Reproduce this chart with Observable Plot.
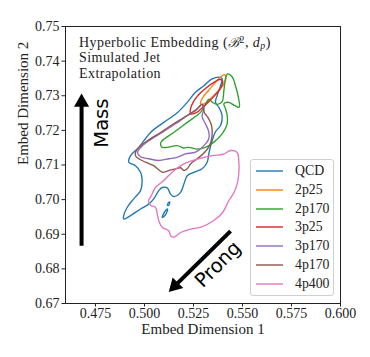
<!DOCTYPE html>
<html><head><meta charset="utf-8">
<script src="https://cdn.jsdelivr.net/npm/d3@7"></script>
<script src="https://cdn.jsdelivr.net/npm/@observablehq/plot@0.6"></script>
<style>
body{margin:0;background:#fff;}
#wrap{position:relative;width:370px;height:357px;font-family:"Liberation Serif",serif;color:#222;}
#chart svg{font-family:"Liberation Serif",serif !important;font-size:14px !important;}
#title{position:absolute;left:79px;top:34.5px;font-size:14px;letter-spacing:0.45px;line-height:15.5px;white-space:nowrap;}
#title sup{font-size:0.7em;line-height:0;vertical-align:0.45em;}
#title sub{font-size:0.7em;line-height:0;vertical-align:-0.25em;}
#title .cal{font-family:"DejaVu Serif",serif;font-style:italic;font-size:0.95em;}
#legend{position:absolute;left:250px;top:159px;width:84px;height:137px;border:1px solid #d0d0d0;border-radius:3px;background:rgba(255,255,255,0.85);box-sizing:border-box;}
.row{position:absolute;left:0;height:19px;display:flex;align-items:center;font-size:13.8px;}
.row svg{margin-left:5px;margin-right:12px;}
</style></head>
<body>
<div id="wrap">
  <div id="chart"></div>
  <div id="title">Hyperbolic Embedding (<span class="cal">ℬ</span><sup>2</sup>, <i>d</i><sub><i>p</i></sub>)<br>Simulated Jet<br>Extrapolation</div>
  <div id="legend"></div>
</div>
<script>
// ---- data (embedding-space contours) ----
const categories = ["QCD","2p25","2p170","3p25","3p170","4p170","4p400"];
const colors = ["#1f77b4","#ff7f0e","#2ca02c","#d62728","#9467bd","#8c564b","#e377c2"];
const xTicks = [0.475,0.500,0.525,0.550,0.575,0.600];
const yTicks = [0.67,0.68,0.69,0.70,0.71,0.72,0.73,0.74,0.75];

const qcdMain = [[0.5388,0.7353],[0.5345,0.7349],[0.5303,0.7329],[0.5260,0.7310],[0.5218,0.7281],[0.5167,0.7251],[0.5098,0.7223],[0.5031,0.7194],[0.4971,0.7151],[0.4929,0.7127],[0.4920,0.7108],[0.4954,0.7098],[0.4980,0.7079],[0.4988,0.7055],[0.4980,0.7026],[0.4945,0.7002],[0.4912,0.6978],[0.4894,0.6954],[0.4894,0.6944],[0.4929,0.6954],[0.4980,0.6973],[0.5022,0.6987],[0.5047,0.7002],[0.5073,0.7026],[0.5090,0.7035],[0.5116,0.7034],[0.5133,0.7016],[0.5149,0.7009],[0.5184,0.7021],[0.5201,0.7045],[0.5218,0.7069],[0.5252,0.7079],[0.5294,0.7089],[0.5320,0.7108],[0.5328,0.7132],[0.5345,0.7170],[0.5362,0.7196],[0.5388,0.7214],[0.5396,0.7243],[0.5379,0.7267],[0.5362,0.7281],[0.5371,0.7301],[0.5388,0.7329],[0.5396,0.7349]];
const qcdIsland1 = [[0.5090,0.6949],[0.5097,0.6959],[0.5110,0.6970],[0.5118,0.6973],[0.5115,0.6965],[0.5102,0.6953]];
const qcdIsland2 = [[0.5117,0.6984],[0.5125,0.6993],[0.5129,0.6991],[0.5122,0.6983]];
const p2p25 = [[0.5286,0.7277],[0.5301,0.7298],[0.5327,0.7315],[0.5357,0.7335],[0.5388,0.7354],[0.5408,0.7361],[0.5416,0.7353],[0.5406,0.7335],[0.5372,0.7312],[0.5337,0.7292],[0.5306,0.7277]];
const p2p170 = [[0.5090,0.7170],[0.5149,0.7194],[0.5218,0.7223],[0.5286,0.7252],[0.5311,0.7275],[0.5328,0.7290],[0.5347,0.7281],[0.5371,0.7275],[0.5396,0.7283],[0.5405,0.7315],[0.5413,0.7349],[0.5423,0.7363],[0.5447,0.7355],[0.5464,0.7329],[0.5477,0.7301],[0.5483,0.7267],[0.5459,0.7272],[0.5430,0.7281],[0.5405,0.7277],[0.5413,0.7263],[0.5422,0.7243],[0.5422,0.7219],[0.5396,0.7190],[0.5354,0.7166],[0.5311,0.7151],[0.5269,0.7146],[0.5226,0.7151],[0.5199,0.7149],[0.5167,0.7156],[0.5116,0.7151],[0.5090,0.7151],[0.5082,0.7162]];
const p3p25 = [[0.5235,0.7248],[0.5235,0.7263],[0.5250,0.7283],[0.5276,0.7303],[0.5311,0.7321],[0.5352,0.7338],[0.5383,0.7347],[0.5398,0.7344],[0.5393,0.7327],[0.5367,0.7306],[0.5332,0.7285],[0.5296,0.7266],[0.5265,0.7251]];
const p3p170 = [[0.5296,0.7275],[0.5303,0.7263],[0.5294,0.7240],[0.5311,0.7219],[0.5328,0.7196],[0.5328,0.7176],[0.5303,0.7156],[0.5260,0.7137],[0.5209,0.7132],[0.5167,0.7122],[0.5124,0.7118],[0.5073,0.7113],[0.5022,0.7118],[0.4980,0.7124],[0.4964,0.7136],[0.4980,0.7150],[0.5022,0.7170],[0.5090,0.7194],[0.5158,0.7219],[0.5226,0.7246],[0.5265,0.7261]];
const p4p170 = [[0.5294,0.7275],[0.5306,0.7251],[0.5327,0.7234],[0.5342,0.7214],[0.5345,0.7185],[0.5332,0.7156],[0.5306,0.7136],[0.5269,0.7118],[0.5235,0.7103],[0.5218,0.7089],[0.5201,0.7084],[0.5184,0.7092],[0.5158,0.7089],[0.5124,0.7084],[0.5092,0.7079],[0.5071,0.7087],[0.5047,0.7098],[0.5005,0.7108],[0.4971,0.7118],[0.4954,0.7127],[0.4954,0.7137],[0.4971,0.7151],[0.5014,0.7170],[0.5082,0.7194],[0.5149,0.7219],[0.5218,0.7243],[0.5260,0.7257]];
const p4p400 = [[0.5031,0.7007],[0.5056,0.7035],[0.5098,0.7055],[0.5141,0.7079],[0.5201,0.7103],[0.5276,0.7118],[0.5345,0.7127],[0.5403,0.7131],[0.5439,0.7142],[0.5473,0.7136],[0.5481,0.7113],[0.5481,0.7075],[0.5473,0.7046],[0.5456,0.7020],[0.5430,0.6997],[0.5398,0.6962],[0.5352,0.6939],[0.5286,0.6920],[0.5235,0.6915],[0.5184,0.6905],[0.5149,0.6891],[0.5133,0.6896],[0.5124,0.6910],[0.5090,0.6920],[0.5073,0.6939],[0.5065,0.6959],[0.5056,0.6978],[0.5031,0.6983],[0.5020,0.6997]];

// arrows: tail (x1,y1) and head (x2,y2) in data units, plus label placement
const massArrow = {x1:0.4679, y1:0.6867, x2:0.4679, y2:0.7281, angle:0, label:"Mass", lx:0.4780, ly:0.7221, lr:-90};
const prongArrow = {x1:0.5439, y1:0.6909, x2:0.5155, y2:0.6751, angle:225, label:"Prong", lx:0.5375, ly:0.6813, lr:-45};

// ---- build ----
const contourSets = [
  {name:"QCD", rings:[qcdMain, qcdIsland1, qcdIsland2]},
  {name:"2p25", rings:[p2p25]},
  {name:"2p170", rings:[p2p170]},
  {name:"3p25", rings:[p3p25]},
  {name:"3p170", rings:[p3p170]},
  {name:"4p170", rings:[p4p170]},
  {name:"4p400", rings:[p4p400]}
];
const rows = [];
contourSets.forEach(s => s.rings.forEach((ring, ri) => ring.forEach(([x,y]) => rows.push({series:s.name, ring:s.name+"-"+ri, x, y}))));

const arrows = [massArrow, prongArrow];
const serif = "'Liberation Serif', serif";

const chart = Plot.plot({
  width:370, height:357,
  marginLeft:65, marginRight:30, marginTop:26, marginBottom:54,
  style:{fontFamily:serif, fontSize:"14px", color:"#222", background:"transparent"},
  x:{domain:[0.4597,0.6]},
  y:{domain:[0.67,0.75]},
  color:{domain:categories, range:colors},
  marks:[
    Plot.line(rows, {x:"x", y:"y", z:"ring", stroke:"series", strokeWidth:1.35, curve:"catmull-rom-closed"}),
    Plot.axisX(xTicks, {tickFormat:d3.format(".3f"), tickSize:3.5, tickPadding:1.5, label:null, stroke:"#222", fill:"#222", fontSize:14, fontFamily:serif}),
    Plot.axisY(yTicks, {tickFormat:d3.format(".2f"), tickSize:3.5, tickPadding:2.5, label:null, stroke:"#222", fill:"#222", fontSize:14, fontFamily:serif}),
    Plot.frame({stroke:"#222", strokeWidth:1}),
    Plot.text(["Embed Dimension 1"], {text:d=>d, frameAnchor:"bottom", dy:30, fontSize:15, fontFamily:serif, fill:"#222"}),
    Plot.text(["Embed Dimension 2"], {text:d=>d, frameAnchor:"left", dx:-42, rotate:-90, fontSize:15, fontFamily:serif, fill:"#222"}),
    Plot.link(arrows, {x1:"x1", y1:"y1", x2:"x2", y2:"y2", stroke:"black", strokeWidth:4}),
    Plot.dot(arrows, {x:"x2", y:"y2", symbol:"triangle", r:5.6, rotate:"angle", fill:"black", stroke:null}),
    Plot.text(arrows, {x:"lx", y:"ly", text:"label", rotate:"lr", fontFamily:"'DejaVu Sans', sans-serif", fontSize:19.5, fill:"black"})
  ]
});
document.getElementById("chart").appendChild(chart);

// legend
const lg = document.getElementById("legend");
categories.forEach((c,i) => {
  const r = document.createElement("div");
  r.className = "row";
  r.style.top = (1.2 + i*18.93) + "px";
  r.innerHTML = `<svg width="27" height="4"><line x1="0" x2="27" y1="2" y2="2" stroke="${colors[i]}" stroke-width="1.4"/></svg><span>${c}</span>`;
  lg.appendChild(r);
});
</script>
</body></html>
